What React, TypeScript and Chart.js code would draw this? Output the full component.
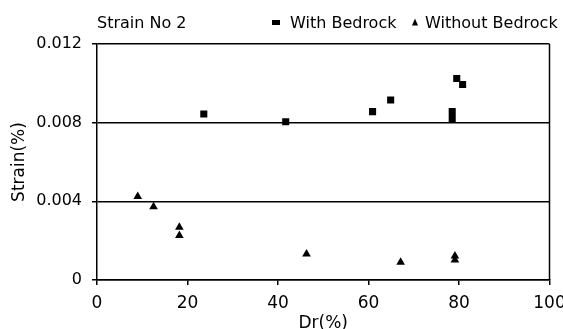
import React, { useEffect, useRef } from "react";
import { Chart, registerables } from "chart.js";

Chart.register(...registerables);

const CHART_TITLE = "Strain No 2";
const X_TITLE = "Dr(%)";
const Y_TITLE = "Strain(%)";
const SERIES_NAMES = ["With Bedrock", "Without Bedrock"];

const X_TICK_VALUES = [0, 20, 40, 60, 80, 100];
const X_TICK_LABELS = ["0", "20", "40", "60", "80", "100"];
const Y_TICK_VALUES = [0, 0.004, 0.008, 0.012];
const Y_TICK_LABELS = ["0", "0.004", "0.008", "0.012"];

const WITH_DR = [23.6, 41.7, 60.9, 64.9, 78.5, 78.5, 79.5, 80.8];
const WITH_STRAIN = [0.00844, 0.00805, 0.00856, 0.00915, 0.00857, 0.00821, 0.01025, 0.00994];

const WITHOUT_DR = [9.0, 12.5, 18.2, 18.2, 46.3, 67.1, 79.1, 79.1];
const WITHOUT_STRAIN = [0.00425, 0.00372, 0.00268, 0.00226, 0.00132, 0.0009, 0.00122, 0.00102];

const FONT = "DejaVu Sans";
const INK = "#000";

const pts = (xs: number[], ys: number[]) => xs.map((x, i) => ({ x, y: ys[i] }));

const decorPlugin = {
  id: "decor",
  afterDraw(chart: any) {
    const ctx = chart.ctx;
    const a = chart.chartArea;
    ctx.save();
    // right border
    ctx.strokeStyle = INK;
    ctx.lineWidth = 1.5;
    ctx.beginPath();
    ctx.moveTo(a.right, a.top);
    ctx.lineTo(a.right, a.bottom);
    ctx.stroke();
    // title
    ctx.fillStyle = INK;
    ctx.textBaseline = "alphabetic";
    ctx.textAlign = "left";
    ctx.font = `16px "${FONT}"`;
    ctx.fillText(CHART_TITLE, 97, 28);
    // legend
    ctx.fillRect(272, 20, 8, 5);
    ctx.fillText(SERIES_NAMES[0], 290, 28);
    ctx.beginPath();
    ctx.moveTo(415, 18.5);
    ctx.lineTo(418, 25.5);
    ctx.lineTo(412, 25.5);
    ctx.closePath();
    ctx.fill();
    ctx.fillText(SERIES_NAMES[1], 425, 28);
    ctx.restore();
  },
};

export default function App() {
  const ref = useRef<HTMLCanvasElement | null>(null);

  useEffect(() => {
    document.body.style.margin = "0";
    const canvas = ref.current;
    if (!canvas) return;
    const chart = new Chart(canvas, {
      type: "scatter",
      data: {
        datasets: [
          {
            label: SERIES_NAMES[0],
            data: pts(WITH_DR, WITH_STRAIN),
            pointStyle: "rect",
            pointRadius: 5,
            backgroundColor: INK,
            borderColor: INK,
            borderWidth: 0,
          },
          {
            label: SERIES_NAMES[1],
            data: pts(WITHOUT_DR, WITHOUT_STRAIN),
            pointStyle: "triangle",
            pointRadius: 5,
            backgroundColor: INK,
            borderColor: INK,
            borderWidth: 0,
          },
        ],
      },
      options: {
        responsive: false,
        animation: false,
        events: [],
        layout: { padding: { top: 44, right: 13.5, left: 0, bottom: 0 } },
        plugins: {
          legend: { display: false },
          title: { display: false },
          tooltip: { enabled: false },
        },
        scales: {
          x: {
            type: "linear",
            min: 0,
            max: 100,
            afterBuildTicks: (s: any) => {
              s.ticks = X_TICK_VALUES.map((v) => ({ value: v }));
            },
            ticks: {
              color: INK,
              font: { family: FONT, size: 17 },
              padding: 8,
              maxRotation: 0,
              callback: (_v: any, i: number) => X_TICK_LABELS[i],
            },
            grid: { drawOnChartArea: false, drawTicks: true, tickLength: 5, color: INK, lineWidth: 1.5 },
            border: { color: INK, width: 1.5 },
            title: {
              display: true,
              text: X_TITLE,
              color: INK,
              font: { family: FONT, size: 17, lineHeight: 1 },
              padding: { top: 0, bottom: -3 },
            },
            afterFit: (s: any) => {
              s.height = 49;
              s.paddingLeft = 0;
              s.paddingRight = 0;
            },
          },
          y: {
            type: "linear",
            min: 0,
            max: 0.012,
            afterBuildTicks: (s: any) => {
              s.ticks = Y_TICK_VALUES.map((v) => ({ value: v }));
            },
            ticks: {
              color: INK,
              font: { family: FONT, size: 16 },
              padding: 10,
              callback: (_v: any, i: number) => Y_TICK_LABELS[i],
            },
            grid: { color: INK, lineWidth: 1.5, tickLength: 5 },
            border: { color: INK, width: 1.5 },
            title: {
              display: true,
              text: Y_TITLE,
              color: INK,
              font: { family: FONT, size: 17 },
              padding: { top: 9, bottom: 0 },
            },
            afterFit: (s: any) => {
              s.width = 97;
            },
          },
        },
      },
      plugins: [decorPlugin],
    } as any);
    return () => chart.destroy();
  }, []);

  return (
    <div style={{ width: 563, height: 329 }}>
      <canvas ref={ref} width={563} height={329} />
    </div>
  );
}
